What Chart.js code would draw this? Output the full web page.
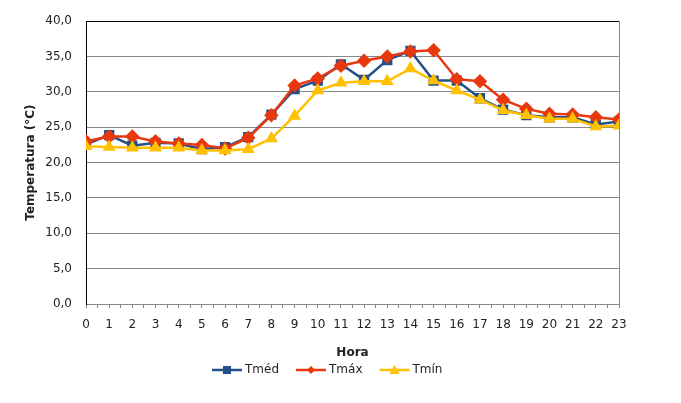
<!DOCTYPE html>
<html>
<head>
<meta charset="utf-8">
<script src="https://cdn.jsdelivr.net/npm/chart.js@4"></script>
<style>
  html, body { margin: 0; padding: 0; background: #fff; }
  #wrap { width: 681px; height: 403px; }
</style>
</head>
<body>
<div id="wrap"><canvas id="grafico" width="681" height="403"></canvas></div>
<script>
var horas = [0,1,2,3,4,5,6,7,8,9,10,11,12,13,14,15,16,17,18,19,20,21,22,23];
var tmed = [22.6,23.9,22.4,22.8,22.7,21.9,22.2,23.6,26.8,30.4,31.6,33.9,31.7,34.5,35.8,31.6,31.6,29.1,27.5,26.7,26.4,26.4,25.4,25.8];
var tmax = [23.0,23.7,23.7,23.0,22.7,22.5,22.0,23.5,26.7,30.9,31.9,33.7,34.4,35.0,35.7,35.9,31.8,31.5,28.9,27.6,26.9,26.8,26.4,26.1];
var tmin = [22.3,22.2,22.1,22.1,22.1,21.7,21.7,21.9,23.4,26.6,30.2,31.3,31.5,31.5,33.3,31.6,30.2,28.9,27.4,26.7,26.2,26.2,25.1,25.2];

var azul = '#24508A', vermelho = '#E8380D', amarelo = '#FFC000';

// legenda desenhada à mão (linha + marcador, como no Excel)
var legenda = {
  id: 'legenda',
  afterDraw: function(chart) {
    var ctx = chart.ctx;
    var y = 370, x = 212;
    ctx.save();
    ctx.font = '12px "DejaVu Sans"';
    ctx.textBaseline = 'middle';
    chart.data.datasets.forEach(function(ds) {
      ctx.strokeStyle = ds.borderColor;
      ctx.lineWidth = 2.5;
      ctx.beginPath();
      ctx.moveTo(x, y); ctx.lineTo(x + 30, y);
      ctx.stroke();
      var cx = x + 15;
      ctx.fillStyle = ds.backgroundColor;
      ctx.beginPath();
      if (ds.pointStyle === 'rect') {
        ctx.rect(cx - 4, y - 4, 8, 8);
      } else if (ds.pointStyle === 'rectRot') {
        ctx.moveTo(cx, y - 4); ctx.lineTo(cx + 4, y); ctx.lineTo(cx, y + 4); ctx.lineTo(cx - 4, y);
      } else {
        ctx.moveTo(cx, y - 5); ctx.lineTo(cx + 5, y + 4); ctx.lineTo(cx - 5, y + 4);
      }
      ctx.closePath();
      ctx.fill();
      ctx.fillStyle = '#222';
      ctx.fillText(ds.label, x + 33, y);
      x += 33 + ctx.measureText(ds.label).width + 17;
    });
    ctx.restore();
  }
};

var ctx = document.getElementById('grafico').getContext('2d');
var chart = new Chart(ctx, {
  type: 'line',
  data: {
    labels: horas,
    datasets: [{
      label: 'Tméd',
      data: tmed,
      borderColor: azul,
      backgroundColor: azul,
      pointStyle: 'rect',
      pointRadius: 5.5,
      borderWidth: 2.5,
      order: 2
    }, {
      label: 'Tmáx',
      data: tmax,
      borderColor: vermelho,
      backgroundColor: vermelho,
      pointStyle: 'rectRot',
      pointRadius: 5.5,
      borderWidth: 2.5,
      order: 1
    }, {
      label: 'Tmín',
      data: tmin,
      borderColor: amarelo,
      backgroundColor: amarelo,
      pointStyle: 'triangle',
      pointRadius: 5,
      borderWidth: 2.5,
      order: 0
    }]
  },
  options: {
    responsive: false,
    animation: false,
    layout: { padding: { left: 24, right: 62, top: 19, bottom: 43 } },
    plugins: {
      legend: { display: false },
      tooltip: { enabled: false }
    },
    scales: {
      x: {
        type: 'linear',
        min: 0,
        max: 23,
        afterFit: function(s) { s.height = 56; },
        border: { color: '#888', width: 1 },
        grid: {
          color: function(c) { return c.tick && c.tick.value === 23 ? '#888' : 'rgba(0,0,0,0)'; },
          tickColor: '#888',
          tickLength: 4
        },
        ticks: {
          stepSize: 0.5,
          autoSkip: false,
          maxRotation: 0,
          padding: 10,
          color: '#222',
          font: { family: 'DejaVu Sans', size: 12 },
          callback: function(v) { return v % 1 === 0 ? v : ''; }
        },
        title: {
          display: true,
          text: 'Hora',
          color: '#222',
          padding: { top: 4, bottom: 0 },
          font: { family: 'DejaVu Sans', size: 12, weight: 'bold' }
        }
      },
      y: {
        min: 0,
        max: 40,
        afterFit: function(s) { s.width = 62; },
        border: { color: '#000', width: 1 },
        grid: {
          color: function(c) { return c.tick && c.tick.value === 40 ? '#000' : '#888'; },
          drawTicks: false
        },
        ticks: {
          stepSize: 5,
          padding: 14,
          color: '#222',
          font: { family: 'DejaVu Sans', size: 12 },
          callback: function(v) { return v.toFixed(1).replace('.', ','); }
        },
        title: {
          display: true,
          text: 'Temperatura (°C)',
          color: '#222',
          padding: 0,
          font: { family: 'DejaVu Sans', size: 12, weight: 'bold' }
        }
      }
    }
  },
  plugins: [legenda]
});
</script>
</body>
</html>
